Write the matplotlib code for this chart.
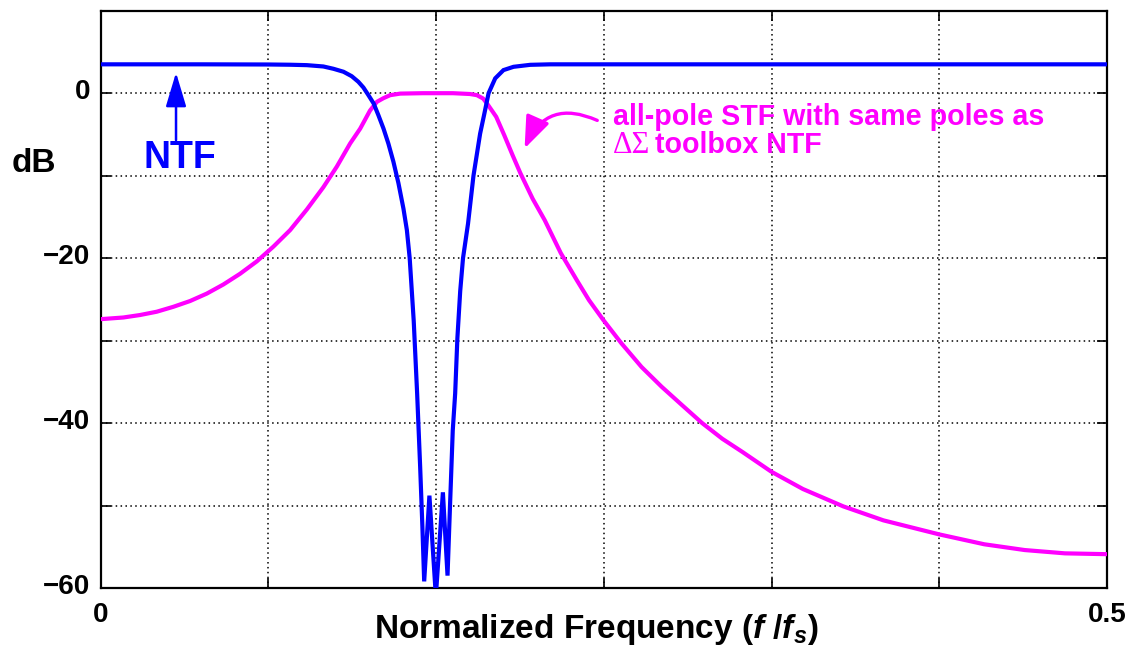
import matplotlib
matplotlib.use("Agg")
import matplotlib.pyplot as plt
from matplotlib.transforms import ScaledTranslation

plt.rcParams["font.family"] = ["Liberation Sans", "DejaVu Sans"]
plt.rcParams["font.weight"] = "bold"
plt.rcParams["mathtext.fontset"] = "custom"
plt.rcParams["mathtext.it"] = "Liberation Sans:italic:bold"
plt.rcParams["mathtext.rm"] = "Liberation Sans:bold"

# NTF magnitude (dB)
ntf_f = [0.0, 0.05, 0.0835, 0.0941, 0.1024, 0.1106, 0.1156, 0.1206, 0.1247,
         0.128, 0.1305, 0.133, 0.1356, 0.138, 0.1405, 0.1429, 0.1454, 0.1479,
         0.1504, 0.1521, 0.1535, 0.1555, 0.1572, 0.1587, 0.1598, 0.1607,
         0.1633, 0.1665, 0.170, 0.1723, 0.1736, 0.1749, 0.1761, 0.1772,
         0.1786, 0.1800, 0.1825, 0.1852, 0.1885, 0.1905, 0.1927, 0.196,
         0.2001, 0.2051, 0.2134, 0.2233, 0.3, 0.5]
ntf_db = [3.5, 3.5, 3.48, 3.45, 3.4, 3.24, 2.96, 2.6, 2.06,
          1.38, 0.69, -0.24, -1.25, -2.7, -4.3, -6.1, -8.3, -10.9,
          -14.0, -16.6, -20.0, -27.6, -36.4, -45.3, -52.5, -59.2,
          -48.8, -61.0, -48.4, -58.5, -49.6, -40.9, -36.4, -29.7,
          -24.0, -20.0, -15.8, -10.0, -4.9, -2.6, 0.0, 1.8,
          2.8, 3.2, 3.44, 3.5, 3.5, 3.5]

# all-pole STF magnitude (dB)
stf_f = [0.0, 0.0112, 0.0195, 0.0278, 0.0361, 0.0444, 0.0527, 0.0609, 0.0692,
         0.0775, 0.0858, 0.0941, 0.1024, 0.1106, 0.1173, 0.1239, 0.1289, 0.1338,
         0.1372, 0.1405, 0.1438, 0.1488, 0.16, 0.175, 0.1835, 0.1869, 0.190,
         0.1925, 0.1965, 0.2005, 0.2046, 0.2085, 0.2146, 0.2206, 0.2286, 0.2366,
         0.2426, 0.2497, 0.2586, 0.2687, 0.2787, 0.2887, 0.2988, 0.3088, 0.3188,
         0.3332, 0.3489, 0.3689, 0.3889, 0.4166, 0.439, 0.4591, 0.4791, 0.5]
stf_db = [-27.4, -27.2, -26.9, -26.5, -25.9, -25.2, -24.3, -23.2, -21.9,
          -20.4, -18.6, -16.6, -14.1, -11.4, -8.9, -6.1, -4.3, -2.1,
          -1.05, -0.6, -0.24, -0.05, 0.0, 0.0, -0.1, -0.24, -0.65,
          -1.45, -2.87, -5.1, -7.5, -9.7, -12.8, -15.4, -19.4, -22.7,
          -25.1, -27.5, -30.3, -33.2, -35.6, -37.8, -40.0, -41.9, -43.5,
          -45.9, -48.0, -50.1, -51.8, -53.5, -54.7, -55.4, -55.8, -55.9]

x_ticks = [i / 12 for i in range(7)]
x_labels = ["0", "", "", "", "", "", "0.5"]
y_ticks = [10, 0, -10, -20, -30, -40, -50, -60]
y_labels = ["", "0", "", "\u221220", "", "\u221240", "", "\u221260"]

fig = plt.figure(figsize=(11.27, 6.58), dpi=100)
ax = fig.add_axes([0.0894, 0.1064, 0.8929, 0.8773])

ax.plot(stf_f, stf_db, color="#ff00ff", lw=3.0, solid_joinstyle="round", zorder=3)
ax.plot(ntf_f, ntf_db, color="#0000ff", lw=3.0, solid_joinstyle="miter", zorder=4)

ax.set_xlim(0, 0.5)
ax.set_ylim(-60, 10)
ax.set_xticks(x_ticks)
ax.set_xticklabels(x_labels)
ax.set_yticks(y_ticks)
ax.set_yticklabels(y_labels)
ax.grid(True, color="black", linestyle=(0, (1, 2.2)), linewidth=1.1)
ax.tick_params(direction="in", top=True, right=True, length=7, width=1.2,
               labelsize=20)
ax.tick_params(axis="x", pad=10)
ax.tick_params(axis="y", pad=7.5)
for sp in ax.spines.values():
    sp.set_linewidth(1.6)

for lab in ax.get_yticklabels():
    lab.set_transform(lab.get_transform() + ScaledTranslation(0, 0.04, fig.dpi_scale_trans))

fig.text(0.529, 0.0304, "Normalized Frequency ($f$ /$f_s$)", ha="center",
         va="baseline", fontsize=24, fontweight="bold")
fig.text(0.0302, 0.7508, "dB", ha="center", va="center", fontsize=24,
         fontweight="bold")

# NTF label with straight arrow
ax.annotate("", xy=(0.0374, 2.5), xytext=(0.0374, -5.7),
            arrowprops=dict(arrowstyle="-|>,head_length=1.4,head_width=0.42",
                            mutation_scale=15, color="#0000ff", lw=1.8,
                            shrinkA=0, shrinkB=0))
ax.text(0.0395, -7.8, "NTF", color="#0000ff", fontsize=27, fontweight="bold",
        ha="center", va="center")

# STF label with curved arrow
ax.annotate("", xy=(0.2106, -6.7), xytext=(0.2467, -3.3),
            arrowprops=dict(arrowstyle="-|>,head_length=1.3,head_width=0.5",
                            mutation_scale=15, color="#ff00ff", lw=2.4,
                            connectionstyle="arc3,rad=0.5",
                            shrinkA=0, shrinkB=0))
ax.text(0.2546, -3.9, "all-pole STF with same poles as", color="#ff00ff",
        fontsize=20.6, fontweight="bold", ha="left", va="baseline")
ax.text(0.2546, -7.25, "\u0394\u03a3", color="#ff00ff", fontsize=22,
        fontweight="normal", family=["Liberation Serif", "DejaVu Serif"],
        ha="left", va="baseline")
ax.text(0.2755, -7.25, "toolbox NTF", color="#ff00ff", fontsize=20.6,
        fontweight="bold", ha="left", va="baseline")

plt.savefig("out.png", dpi=100)
plt.close()
